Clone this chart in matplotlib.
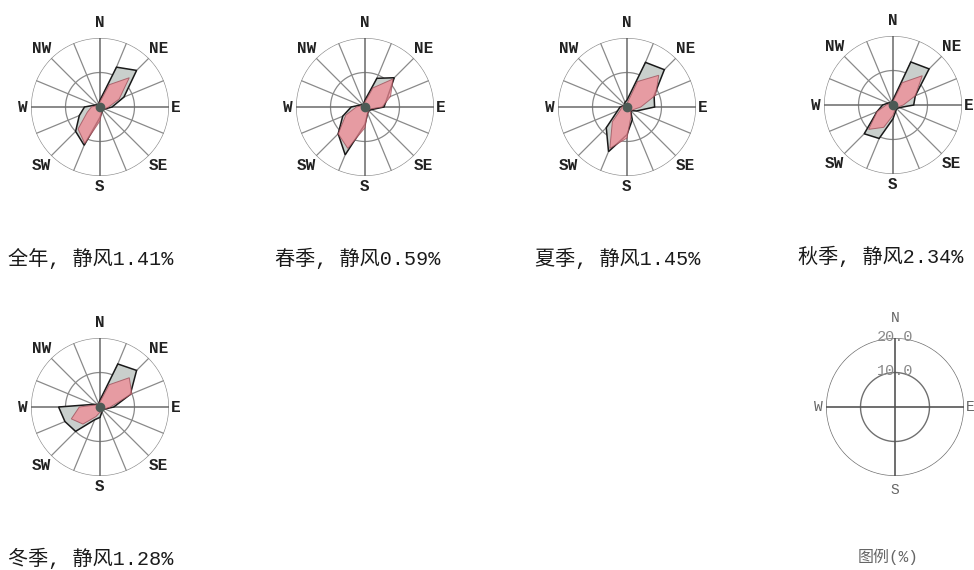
import numpy as np
import matplotlib.pyplot as plt

plt.rcParams['font.family'] = ['Liberation Mono', 'Noto Sans CJK SC', 'DejaVu Sans']

# 16 wind directions, clockwise from north
directions = ['N', 'NNE', 'NE', 'ENE', 'E', 'ESE', 'SE', 'SSE',
              'S', 'SSW', 'SW', 'WSW', 'W', 'WNW', 'NW', 'NNW']

# wind direction frequency (%), grey polygon
freq_year = [2, 12.5, 15, 7.5, 3.5, 1.5, 1, 1.5, 3, 12, 10, 6.5, 4.5, 1.5, 1, 1]
freq_spring = [2, 9, 12, 7, 5.5, 2, 1.5, 2, 5, 15, 11, 7, 4, 1.5, 1, 1]
freq_summer = [2, 14, 15.3, 8.5, 8, 3, 1.5, 4, 8, 14, 8.5, 3, 2, 1, 1, 1.5]
freq_autumn = [1.5, 13.5, 14.8, 7, 6, 2, 1.5, 2, 4, 10.5, 11.8, 5, 3, 1.5, 1, 1]
freq_winter = [2, 13.5, 15, 9.5, 4, 1.5, 1, 1.5, 3, 4, 10, 11, 12, 2, 1, 1]

# pink polygon
pink_year = [1.5, 7, 12, 6, 2.5, 1.5, 1, 1.5, 4, 11.5, 9, 4, 2.5, 1, 1, 1]
pink_spring = [1.5, 6, 11.5, 8, 5, 1.5, 1.5, 2, 6, 13, 11, 6, 2.5, 1, 1, 1]
pink_summer = [1, 8, 13, 9, 4, 2, 1.5, 3, 9, 13, 6, 2, 1.5, 1, 1, 1]
pink_autumn = [1, 7, 12, 7, 3, 1.5, 1, 1.5, 3, 7, 10, 5, 2, 1, 1, 1]
pink_winter = [1.5, 7, 12, 10, 3, 1.5, 1, 1.5, 1.5, 3, 7, 9, 6, 1.5, 1, 1]

titles = ['全年, 静风1.41%', '春季, 静风0.59%', '夏季, 静风1.45%',
          '秋季, 静风2.34%', '冬季, 静风1.28%']

W, H = 974, 570
fig = plt.figure(figsize=(W / 100, H / 100), dpi=100)

theta = np.deg2rad(np.arange(16) * 22.5)
circ = np.linspace(0, 2 * np.pi, 361)
R = 69  # pixel radius of 20 %


def polar_ax(cx, cy):
    ax = fig.add_axes([(cx - R) / W, 1 - (cy + R) / H, 2 * R / W, 2 * R / H],
                      projection='polar')
    ax.set_theta_zero_location('N')
    ax.set_theta_direction(-1)
    ax.set_ylim(0, 20)
    ax.set_axis_off()
    return ax


def rose(cx, cy, freq, pink, title, tx):
    ax = polar_ax(cx, cy)
    for r in [10, 20]:
        ax.plot(circ, np.full_like(circ, r), color='#8a8a8a', lw=0.9)
    for i, t in enumerate(theta):
        if i % 4 == 0:
            ax.plot([t, t], [0, 20], color='#6a6a6a', lw=1.1)
        else:
            ax.plot([t, t], [0, 20], color='#8a8a8a', lw=0.9)
    th = np.append(theta, theta[0])
    ax.fill(th, np.append(freq, freq[0]), facecolor='#c9cfcc', edgecolor='#1a1a1a',
            lw=1.1, zorder=3)
    ax.fill(th, np.append(pink, pink[0]), facecolor='#f08a95', alpha=0.75,
            edgecolor='#9a4b55', lw=0.7, zorder=4)
    ax.plot([0], [0], 'o', color='#4d5a55', ms=6, zorder=5)
    for lab, t in zip(['N', 'E', 'S', 'W'], [0, 90, 180, 270]):
        rr = {'N': 24.5, 'S': 23, 'E': 21.8, 'W': 22.5}[lab]
        ax.text(np.deg2rad(t), rr, lab, ha='center', va='center', fontsize=11.5,
                fontweight='bold', color='#222222', clip_on=False)
    for lab, t in zip(['NE', 'SE', 'SW', 'NW'], [45, 135, 225, 315]):
        ax.text(np.deg2rad(t), 24, lab, ha='center', va='center', fontsize=11.5,
                fontweight='bold', color='#222222', clip_on=False)
    fig.text(tx / W, 1 - (cy + 151) / H, title, fontsize=14.5, ha='left',
             va='center', color='#1a1a1a')


rose(100, 107, freq_year, pink_year, titles[0], 8)
rose(365, 107, freq_spring, pink_spring, titles[1], 275)
rose(627, 107, freq_summer, pink_summer, titles[2], 535)
rose(893, 105, freq_autumn, pink_autumn, titles[3], 798)
rose(100, 407, freq_winter, pink_winter, titles[4], 8)

# scale legend
legend_rings = [10.0, 20.0]
ax = polar_ax(895, 407)
for r in legend_rings:
    ax.plot(circ, np.full_like(circ, r), color='#707070', lw=1)
    ax.text(0, r + 0.3, f'{r:.1f}', ha='center', va='center', fontsize=11,
            color='#8a8a8a', clip_on=False, zorder=5)
for t in [0, 90, 180, 270]:
    ax.plot([np.deg2rad(t)] * 2, [0, 20], color='#555555', lw=1.2)
for lab, t, rr in zip(['N', 'E', 'S', 'W'], [0, 90, 180, 270], [25.8, 21.8, 24, 22.3]):
    ax.text(np.deg2rad(t), rr, lab, ha='center', va='center', fontsize=10.5,
            color='#666666', clip_on=False)
fig.text(888 / W, 1 - 557 / H, '图例(%)', fontsize=11.5, ha='center', va='center',
         color='#666666')

fig.savefig('out.png', dpi=100, facecolor='white')
